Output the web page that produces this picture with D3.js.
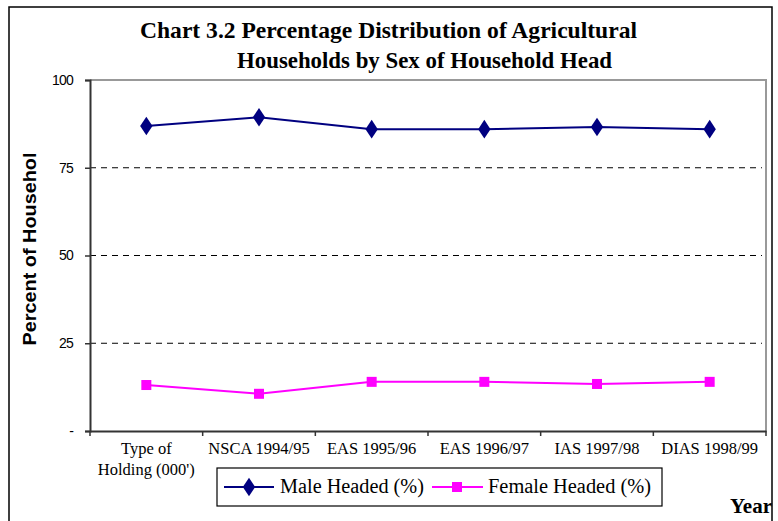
<!DOCTYPE html>
<html>
<head>
<meta charset="utf-8">
<script src="https://cdn.jsdelivr.net/npm/d3@7"></script>
<style>
    body { margin: 0; background: #ffffff; }
</style>
</head>
<body>
<div id="chart"></div>
<script>
var categories = ["Type of|Holding (000')", "NSCA 1994/95", "EAS 1995/96", "EAS 1996/97", "IAS 1997/98", "DIAS 1998/99"];
var maleHeaded = [86.9, 89.4, 86.0, 86.0, 86.6, 86.0];
var femaleHeaded = [13.1, 10.6, 14.0, 14.0, 13.4, 14.0];
var yTicks = [0, 25, 50, 75, 100];
var yTickLabels = ["-", "25", "50", "75", "100"];
var seriesNames = ["Male Headed (%)", "Female Headed (%)"];

drawLineChart();

function drawLineChart() {
    var w = 778, h = 521;
    var left = 90, right = 766, top = 80, bottom = 431;
    var serif = "'Liberation Serif', 'Times New Roman', serif";
    var svg = d3.select("#chart").append("svg").attr("width", w).attr("height", h).style("background", "#ffffff");

    // outer frame
    svg.append("rect").attr("x", 9).attr("y", 7).attr("width", 763).attr("height", 530)
        .attr("fill", "none").attr("stroke", "#000").attr("stroke-width", 1.5);

    // title
    svg.append("text").attr("x", 140).attr("y", 38)
        .attr("font-family", serif).attr("font-weight", "bold").attr("font-size", "23px")
        .attr("textLength", 497).attr("lengthAdjust", "spacingAndGlyphs")
        .text("Chart 3.2 Percentage Distribution of Agricultural");
    svg.append("text").attr("x", 237).attr("y", 68)
        .attr("font-family", serif).attr("font-weight", "bold").attr("font-size", "23px")
        .attr("textLength", 375).attr("lengthAdjust", "spacingAndGlyphs")
        .text("Households by Sex of Household Head");

    var x_scale = d3.scaleBand().domain(categories).range([left, right]);
    var y_scale = d3.scaleLinear().domain([0, 100]).range([bottom, top]);

    // plot border (top and right gray)
    svg.append("path").attr("d", "M" + left + "," + top + "H" + right + "V" + bottom)
        .attr("fill", "none").attr("stroke", "#999").attr("stroke-width", 2);

    // dashed gridlines
    svg.selectAll("line.grid").data([25, 50, 75]).enter().append("line")
        .attr("class", "grid")
        .attr("x1", left).attr("x2", right - 4)
        .attr("y1", function (d) { return y_scale(d); })
        .attr("y2", function (d) { return y_scale(d); })
        .attr("stroke", "#000").attr("stroke-dasharray", "6,5");

    // y axis
    var yAxis = d3.axisLeft(y_scale).tickValues(yTicks).tickSize(5).tickPadding(12)
        .tickFormat(function (d, i) { return yTickLabels[i]; });
    var gy = svg.append("g").attr("transform", "translate(" + left + ",0)").call(yAxis);
    gy.select(".domain").attr("stroke", "#333").attr("stroke-width", 2);
    gy.selectAll(".tick line").attr("stroke", "#333").attr("stroke-width", 1.5);
    gy.selectAll("text").attr("font-family", "'Liberation Sans', Arial, sans-serif").attr("font-size", "14px")
        .attr("letter-spacing", "-0.8px").attr("fill", "#000");

    // x axis
    var xAxis = d3.axisBottom(x_scale).tickSize(0).tickFormat("");
    var gx = svg.append("g").attr("transform", "translate(0," + bottom + ")").call(xAxis);
    gx.select(".domain").attr("stroke", "#333").attr("stroke-width", 2);
    var bounds = categories.map(function (c) { return x_scale(c); }).concat([right]);
    svg.selectAll("line.xtick").data(bounds).enter().append("line")
        .attr("class", "xtick")
        .attr("x1", function (d) { return d; }).attr("x2", function (d) { return d; })
        .attr("y1", bottom).attr("y2", bottom + 5)
        .attr("stroke", "#333").attr("stroke-width", 1.5);

    var xl = svg.selectAll("text.xlab").data(categories).enter().append("text")
        .attr("class", "xlab")
        .attr("x", function (d) { return x_scale(d) + x_scale.bandwidth() / 2; })
        .attr("y", 454)
        .attr("text-anchor", "middle")
        .attr("font-family", serif).attr("font-size", "16.5px");
    xl.each(function (d) {
        var parts = d.split("|");
        var t = d3.select(this);
        parts.forEach(function (p, i) {
            t.append("tspan").attr("x", t.attr("x")).attr("dy", i === 0 ? 0 : 21).text(p);
        });
    });

    // y axis title
    svg.append("text")
        .attr("transform", "translate(36,249) rotate(-90)")
        .attr("text-anchor", "middle")
        .attr("font-family", "'Liberation Sans', Arial, sans-serif").attr("font-weight", "bold").attr("font-size", "18px")
        .attr("textLength", 193).attr("lengthAdjust", "spacingAndGlyphs")
        .text("Percent of Househol");

    // lines
    var line = d3.line()
        .x(function (d, i) { return x_scale(categories[i]) + x_scale.bandwidth() / 2; })
        .y(function (d) { return y_scale(d); });

    svg.append("path").datum(maleHeaded).attr("d", line)
        .attr("fill", "none").attr("stroke", "#000080").attr("stroke-width", 2);
    svg.append("path").datum(femaleHeaded).attr("d", line)
        .attr("fill", "none").attr("stroke", "#ff00ff").attr("stroke-width", 2);

    var diamond = d3.symbol().type(d3.symbolDiamond).size(100);
    svg.selectAll("path.male").data(maleHeaded).enter().append("path")
        .attr("class", "male")
        .attr("d", diamond)
        .attr("transform", function (d, i) {
            return "translate(" + (x_scale(categories[i]) + x_scale.bandwidth() / 2) + "," + y_scale(d) + ") scale(1.15,1)";
        })
        .attr("fill", "#000080");
    svg.selectAll("rect.female").data(femaleHeaded).enter().append("rect")
        .attr("class", "female")
        .attr("x", function (d, i) { return x_scale(categories[i]) + x_scale.bandwidth() / 2 - 5; })
        .attr("y", function (d) { return y_scale(d) - 5; })
        .attr("width", 10).attr("height", 10)
        .attr("fill", "#ff00ff");

    // legend
    var lg = svg.append("g");
    lg.append("rect").attr("x", 217).attr("y", 468).attr("width", 445).attr("height", 38)
        .attr("fill", "#fff").attr("stroke", "#000").attr("stroke-width", 1.2);
    lg.append("line").attr("x1", 224).attr("x2", 274).attr("y1", 487).attr("y2", 487)
        .attr("stroke", "#000080").attr("stroke-width", 2);
    lg.append("path").attr("d", diamond).attr("transform", "translate(249,487) scale(1.15,1)").attr("fill", "#000080");
    lg.append("text").attr("x", 280).attr("y", 493)
        .attr("font-family", serif).attr("font-size", "20px")
        .attr("textLength", 144).attr("lengthAdjust", "spacingAndGlyphs")
        .text(seriesNames[0]);
    lg.append("line").attr("x1", 432).attr("x2", 483).attr("y1", 487).attr("y2", 487)
        .attr("stroke", "#ff00ff").attr("stroke-width", 2);
    lg.append("rect").attr("x", 452).attr("y", 482).attr("width", 10).attr("height", 10).attr("fill", "#ff00ff");
    lg.append("text").attr("x", 488).attr("y", 493)
        .attr("font-family", serif).attr("font-size", "20px")
        .attr("textLength", 163).attr("lengthAdjust", "spacingAndGlyphs")
        .text(seriesNames[1]);

    // x axis title
    svg.append("text").attr("x", 772).attr("y", 513).attr("text-anchor", "end")
        .attr("font-family", serif).attr("font-weight", "bold").attr("font-size", "21px")
        .text("Year");
}
</script>
</body>
</html>
